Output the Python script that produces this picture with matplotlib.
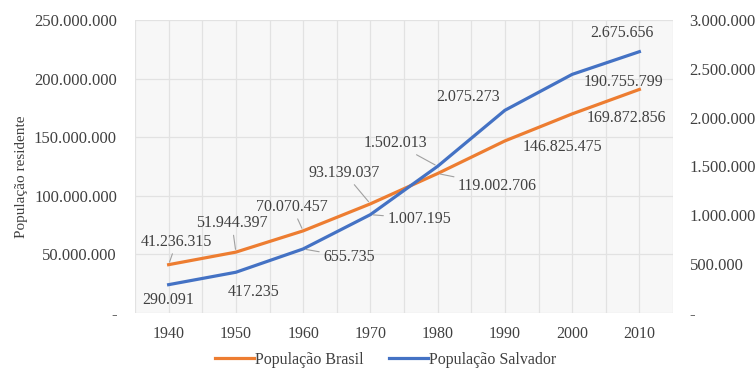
import matplotlib
matplotlib.use("Agg")
import matplotlib.pyplot as plt
from matplotlib.ticker import FuncFormatter, MultipleLocator

plt.rcParams['font.family'] = ['Liberation Serif', 'DejaVu Serif']

years = [1940, 1950, 1960, 1970, 1980, 1990, 2000, 2010]
pop_brasil = [41236315, 51944397, 70070457, 93139037, 119002706, 146825475, 169872856, 190755799]
pop_salvador = [290091, 417235, 655735, 1007195, 1502013, 2075273, 2443107, 2675656]
label_brasil = ['41.236.315', '51.944.397', '70.070.457', '93.139.037',
                '119.002.706', '146.825.475', '169.872.856', '190.755.799']
label_salvador = ['290.091', '417.235', '655.735', '1.007.195',
                  '1.502.013', '2.075.273', None, '2.675.656']

# offsets of the data labels (px, y up) and whether a leader line is drawn
off_brasil = [(8, 23, True), (-4, 29, True), (-11, 24, True), (-26, 31, True),
              (60, -12, True), (58, -6, False), (54, -4, False), (-16, 7, False)]
off_salvador = [(0, -15, False), (18, -20, False), (46, -8, True), (49, -4, True),
                (-42, 23, True), (-37, 13, False), None, (-17, 19, False)]

orange = '#ED7D31'
blue = '#4472C4'
txt = '#404040'
fs = 11.5


def fmt(v, pos=None):
    if v == 0:
        return '-'
    return f'{int(round(v)):,}'.replace(',', '.')


fig = plt.figure(figsize=(7.56, 3.69), dpi=100)
ax = fig.add_axes([135 / 756, 1 - 313 / 369, (673 - 135) / 756, (313 - 20) / 369])
ax2 = ax.twinx()

ax.set_facecolor('#f7f7f7')
ax.set_xlim(1935, 2015)
ax.set_ylim(0, 250_000_000)
ax2.set_ylim(0, 3_000_000)
ax.xaxis.set_minor_locator(MultipleLocator(5))
ax.set_xticks(years)
ax.yaxis.set_major_locator(MultipleLocator(50_000_000))
ax2.yaxis.set_major_locator(MultipleLocator(500_000))
ax.yaxis.set_major_formatter(FuncFormatter(fmt))
ax2.yaxis.set_major_formatter(FuncFormatter(fmt))

ax.grid(True, which='both', axis='x', color='#e2e2e2', lw=0.9)
ax.grid(True, which='major', axis='y', color='#e2e2e2', lw=0.9)
ax.set_axisbelow(True)
for a in (ax, ax2):
    for s in a.spines.values():
        s.set_visible(False)

ax.tick_params(axis='x', which='both', length=0, pad=9, labelsize=fs, labelcolor=txt)
ax.tick_params(axis='y', length=0, pad=13, labelsize=12, labelcolor=txt)
ax2.tick_params(axis='y', length=0, pad=12, labelsize=12, labelcolor=txt)
for t in ax2.get_yticklabels():
    t.set_ha('left')

l1, = ax.plot(years, pop_brasil, color=orange, lw=2.3, label='População Brasil', zorder=3)
l2, = ax2.plot(years, pop_salvador, color=blue, lw=2.3, label='População Salvador', zorder=3)

k = 0.72  # px -> pt
leader = dict(arrowstyle='-', color='#a0a0a0', lw=0.8, shrinkA=1, shrinkB=2)
for a, ys, labs, offs in ((ax, pop_brasil, label_brasil, off_brasil),
                          (ax2, pop_salvador, label_salvador, off_salvador)):
    for x, y, lab, off in zip(years, ys, labs, offs):
        if lab is None:
            continue
        dx, dy, lead = off
        a.annotate(lab, xy=(x, y), xytext=(dx * k, dy * k), textcoords='offset points',
                   ha='center', va='center', fontsize=fs, color=txt, zorder=5,
                   arrowprops=leader if lead else None)

fig.text(22 / 756, 1 - 177 / 369, 'População residente', rotation=90,
         ha='center', va='center', fontsize=fs - 0.5, color=txt)

fig.legend(handles=[l1, l2], loc='center', bbox_to_anchor=(386 / 756, 1 - 360 / 369),
           ncol=2, frameon=False, fontsize=fs, labelcolor=txt,
           handlelength=2.4, handletextpad=0.1, columnspacing=1.6)

fig.savefig('out.png', dpi=100)
